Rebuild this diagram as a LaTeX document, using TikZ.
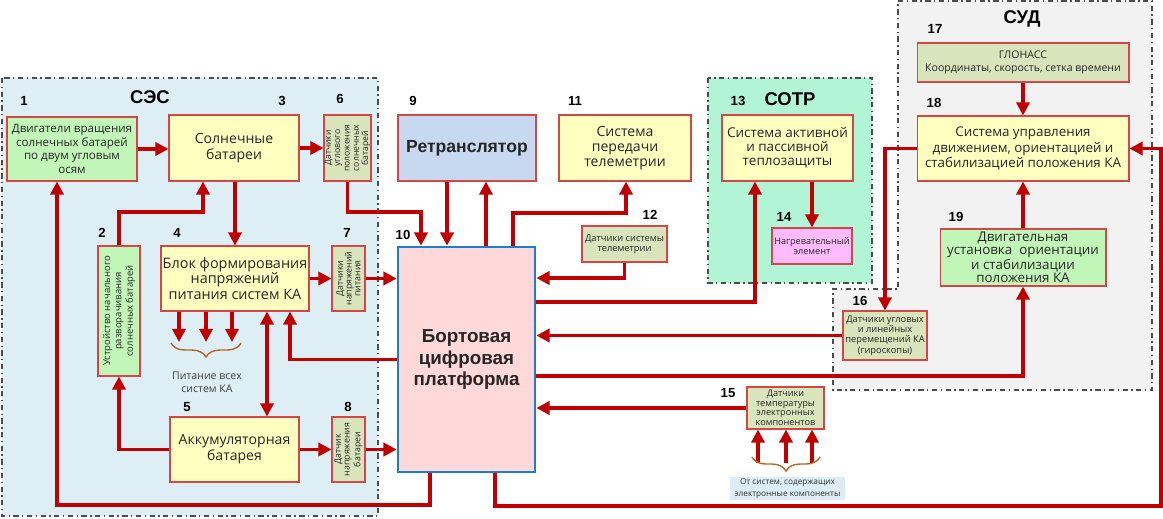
\documentclass[tikz,border=0pt]{standalone}
\usepackage{fontspec}
\setmainfont{Open Sans}
\newfontfamily\arialb{Liberation Sans}
\usetikzlibrary{arrows.meta,decorations.pathreplacing}

\definecolor{strel}{RGB}{192,0,0}
\definecolor{rama}{RGB}{215,70,70}
\definecolor{fonses}{RGB}{221,238,245}
\definecolor{fonsotr}{RGB}{178,245,214}
\definecolor{fonsud}{RGB}{242,242,242}
\definecolor{zhelt}{RGB}{255,255,192}
\definecolor{zelen}{RGB}{194,245,184}
\definecolor{oliv}{RGB}{216,228,188}
\definecolor{golub}{RGB}{198,217,240}
\definecolor{roz}{RGB}{255,217,217}
\definecolor{siren}{RGB}{255,187,255}
\definecolor{sin}{RGB}{31,125,205}
\definecolor{korich}{RGB}{185,100,40}
\definecolor{prim}{RGB}{220,237,245}

\tikzset{every picture/.style={line width=0.75pt}}
\tikzset{
	blk/.style={draw=rama,line width=0.6pt,inner sep=1pt,align=center,text=black!85},
	rot/.style={rotate=90,align=center,inner sep=0pt,text=black!85},
	arr/.style={draw=strel,line width=1.8pt,-{Triangle[length=7.5pt,width=7.5pt]}},
	arr2/.style={draw=strel,line width=1.8pt,{Triangle[length=7.5pt,width=7.5pt]}-{Triangle[length=7.5pt,width=7.5pt]}},
	num/.style={font=\arialb\bfseries\fontsize{7.5}{8}\selectfont},
	zag/.style={font=\arialb\bfseries\fontsize{10.5}{12}\selectfont},
	skob/.style={draw=korich,line width=0.8pt,decorate,decoration={brace,mirror,amplitude=8pt}},
	oblast/.style={draw=black!70,dash dot,line width=0.6pt}
}

\begin{document}
\begin{tikzpicture}[x=0.02cm,y=-0.02cm]
	\useasboundingbox (0,0) rectangle (1163,518);
	%Области
	\draw[oblast,fill=fonses] (2,78) rectangle (378,516);
	\draw[oblast,fill=fonsotr] (708,78) rectangle (872,283);
	\draw[oblast,fill=fonsud] (898,1) -- (1152,1) -- (1152,390) -- (833,390) -- (833,289) -- (898,289) -- cycle;
	\node[zag] (ses) at (150,97) {СЭС};
	\node[zag] (sotr) at (790,99) {СОТР};
	\node[zag] (sud) at (1022,19) {СУД};
	%Блок 1
	\node[blk,fill=zelen,minimum width=2.6cm,minimum height=1.28cm,font=\fontsize{6.6}{7.8}\selectfont] (b1) at (72,149) {Двигатели вращения\\солнечных батарей\\по двум угловым\\осям};
	%Блок 2
	\node[blk,fill=zelen,minimum width=0.84cm,minimum height=2.6cm] (b2) at (119,311) {};
	\node[rot,font=\fontsize{5.4}{6.5}\selectfont] (t2) at (b2) {Устройство начального\\разворачивания\\солнечных батарей};
	%Блок 3
	\node[blk,fill=zhelt,minimum width=2.6cm,minimum height=1.32cm,font=\fontsize{8}{9}\selectfont] (b3) at (234,148) {Солнечные\\батареи};
	%Блок 4
	\node[blk,fill=zhelt,minimum width=2.92cm,minimum height=1.3cm,font=\fontsize{8.2}{9}\selectfont] (b4) at (235,278.5) {Блок формирования\\напряжений\\питания систем КА};
	%Блок 5
	\node[blk,fill=zhelt,minimum width=2.58cm,minimum height=1.3cm,font=\fontsize{8}{9}\selectfont] (b5) at (234.5,449.5) {Аккумуляторная\\батарея};
	%Блок 6
	\node[blk,fill=oliv,minimum width=0.94cm,minimum height=1.32cm] (b6) at (347.5,148) {};
	\node[rot,font=\fontsize{4.9}{5.3}\selectfont] (t6) at (b6) {Датчики\\углового\\положения\\солнечных\\батарей};
	%Блок 7
	\node[blk,fill=oliv,minimum width=0.66cm,minimum height=1.3cm] (b7) at (348.5,278.5) {};
	\node[rot,font=\fontsize{5}{5}\selectfont] (t7) at (b7) {Датчики\\напряжений\\питания};
	%Блок 8
	\node[blk,fill=oliv,minimum width=0.66cm,minimum height=1.3cm] (b8) at (348.5,449.5) {};
	\node[rot,font=\fontsize{5}{5}\selectfont] (t8) at (b8) {Датчик\\напряжения\\батареи};
	%Блок 9
	\node[blk,fill=golub,minimum width=2.76cm,minimum height=1.32cm,font=\arialb\bfseries\fontsize{10}{12}\selectfont] (b9) at (467,148) {Ретранслятор};
	%Блок 10
	\node[blk,draw=sin,line width=1.6pt,fill=roz,minimum width=2.74cm,minimum height=4.5cm,font=\arialb\bfseries\fontsize{10.7}{12.5}\selectfont] (b10) at (466.5,359.5) {Бортовая\\цифровая\\платформа};
	%Блок 11
	\node[blk,fill=zhelt,minimum width=2.64cm,minimum height=1.32cm,font=\fontsize{8}{8.6}\selectfont] (b11) at (625,148) {Система\\передачи\\телеметрии};
	%Блок 12
	\node[blk,fill=oliv,minimum width=1.7cm,minimum height=0.72cm,font=\fontsize{5.3}{5.8}\selectfont] (b12) at (624.5,244) {Датчики системы\\телеметрии};
	%Блок 13
	\node[blk,fill=zhelt,minimum width=2.62cm,minimum height=1.32cm,font=\fontsize{7.7}{8}\selectfont] (b13) at (787.5,148) {Система активной\\и пассивной\\теплозащиты};
	%Блок 14
	\node[blk,fill=siren,minimum width=1.6cm,minimum height=0.72cm,font=\fontsize{5.2}{5.8}\selectfont] (b14) at (812,246) {Нагревательный\\элемент};
	%Блок 15
	\node[blk,fill=oliv,minimum width=1.54cm,minimum height=0.84cm,font=\fontsize{5.2}{5.4}\selectfont] (b15) at (785.5,408) {Датчики\\температуры\\электронных\\компонентов};
	\node[fill=prim,minimum width=2.3cm,minimum height=0.46cm,inner sep=0pt,align=center,text=black!80,font=\fontsize{4.7}{6.4}\selectfont] (pr) at (787.5,488.5) {От систем, содержащих\\электронные компоненты};
	%Блок 16
	\node[blk,fill=oliv,minimum width=1.68cm,minimum height=0.98cm,font=\fontsize{5.3}{5.9}\selectfont] (b16) at (885,335.5) {Датчики угловых\\и линейных\\перемещений КА\\(гироскопы)};
	%Блок 17
	\node[blk,fill=oliv,minimum width=4.24cm,minimum height=0.78cm,font=\fontsize{6}{7}\selectfont] (b17) at (1023,62.5) {ГЛОНАСС\\Координаты, скорость, сетка времени};
	%Блок 18
	\node[blk,fill=zhelt,minimum width=4.24cm,minimum height=1.3cm,font=\fontsize{7.6}{7.5}\selectfont] (b18) at (1023,148.5) {Система управления\\движением, ориентацией и\\стабилизацией положения КА};
	%Блок 19
	\node[blk,fill=zelen,minimum width=3.32cm,minimum height=1.14cm,font=\fontsize{7.6}{7.4}\selectfont] (b19) at (1023,257.5) {Двигательная\\установка~ ориентации\\и стабилизации\\положения КА};
	%Номера
	\node[num] (n1) at (24,101) {1};
	\node[num] (n2) at (102,233) {2};
	\node[num] (n3) at (282,101) {3};
	\node[num] (n4) at (177,233) {4};
	\node[num] (n5) at (187,407) {5};
	\node[num] (n6) at (340,99) {6};
	\node[num] (n7) at (347,233) {7};
	\node[num] (n8) at (348,407) {8};
	\node[num] (n9) at (413,101) {9};
	\node[num] (n10) at (403,235) {10};
	\node[num] (n11) at (575,101) {11};
	\node[num] (n12) at (650,215) {12};
	\node[num] (n13) at (738,101) {13};
	\node[num] (n14) at (784,217) {14};
	\node[num] (n15) at (728,393) {15};
	\node[num] (n16) at (860,301) {16};
	\node[num] (n17) at (935,29) {17};
	\node[num] (n18) at (934,103) {18};
	\node[num] (n19) at (956,217) {19};
	%Стрелки СЭС
	\draw[arr] (b1.east) -- (b1.east -| b3.west);
	\draw[arr] (b3.east) -- (b3.east -| b6.west);
	\draw[arr] (b3.south -| 235,0) -- (b4.north -| 235,0);
	\coordinate (c23) at (203,212);
	\draw[arr] (b2.north) |- (c23) -- (c23 |- b3.south);
	\draw[arr] (b4.east) -- (b4.east -| b7.west);
	\draw[arr] (b7.east) -- (b7.east -| b10.west);
	\draw[arr] (b5.east) -- (b5.east -| b8.west);
	\draw[arr] (b8.east) -- (b8.east -| b10.west);
	\draw[arr] (b5.west) -| (b2.south);
	\draw[arr2] (b4.south -| 267,0) -- (b5.north -| 267,0);
	\draw[arr] (b10.west) -| (b4.south -| 290,0);
	%Питание всех систем
	\coordinate (s1) at (179,342);
	\coordinate (s2) at (206,342);
	\coordinate (s3) at (232,342);
	\draw[arr] (b4.south -| s1) -- (s1);
	\draw[arr] (b4.south -| s2) -- (s2);
	\draw[arr] (b4.south -| s3) -- (s3);
	\draw[skob] (171,343) -- (241,343);
	\node[align=center,text=black!75,font=\fontsize{6}{7.2}\selectfont] (pit) at (207,382) {Питание всех\\систем КА};
	%Стрелки БЦП
	\coordinate (c6) at (421,212);
	\draw[arr] (b6.south) |- (c6) -- (c6 |- b10.north);
	\draw[arr] (b9.south -| 447,0) -- (b10.north -| 447,0);
	\draw[arr] (b10.north -| 486,0) -- (b9.south -| 486,0);
	\coordinate (c11) at (626,213);
	\draw[arr] (b10.north -| 513,0) |- (c11) -- (c11 |- b11.south);
	\draw[arr] (b12.south) |- (b10.east |- 0,278);
	\coordinate (c13) at (755,302);
	\draw[arr] (b10.east |- c13) -- (c13) -- (c13 |- b13.south);
	\draw[arr] (b13.south -| b14) -- (b14.north);
	\draw[arr] (b16.west) -- (b16.west -| b10.east);
	\coordinate (c19) at (1023,376);
	\draw[arr] (b10.east |- c19) -- (c19) -- (b19.south);
	\draw[arr] (b15.west) -- (b15.west -| b10.east);
	\coordinate (c1) at (57,505);
	\draw[arr] (b10.south -| 430,0) |- (c1) -- (c1 |- b1.south);
	\coordinate (c18) at (1161,506);
	\draw[arr] (b10.south -| 495,0) |- (c18) |- (b18.east);
	%Стрелки СУД
	\draw[arr] (b17.south) -- (b18.north);
	\draw[arr] (b19.north) -- (b18.south);
	\draw[arr] (b18.west) -| (b16.north);
	%Датчики температуры
	\coordinate (e1) at (758,463);
	\coordinate (e2) at (786,463);
	\coordinate (e3) at (812,463);
	\draw[arr] (e1) -- (e1 |- b15.south);
	\draw[arr] (e2) -- (e2 |- b15.south);
	\draw[arr] (e3) -- (e3 |- b15.south);
	\draw[skob] (752,457) -- (820,457);
\end{tikzpicture}
\end{document}
